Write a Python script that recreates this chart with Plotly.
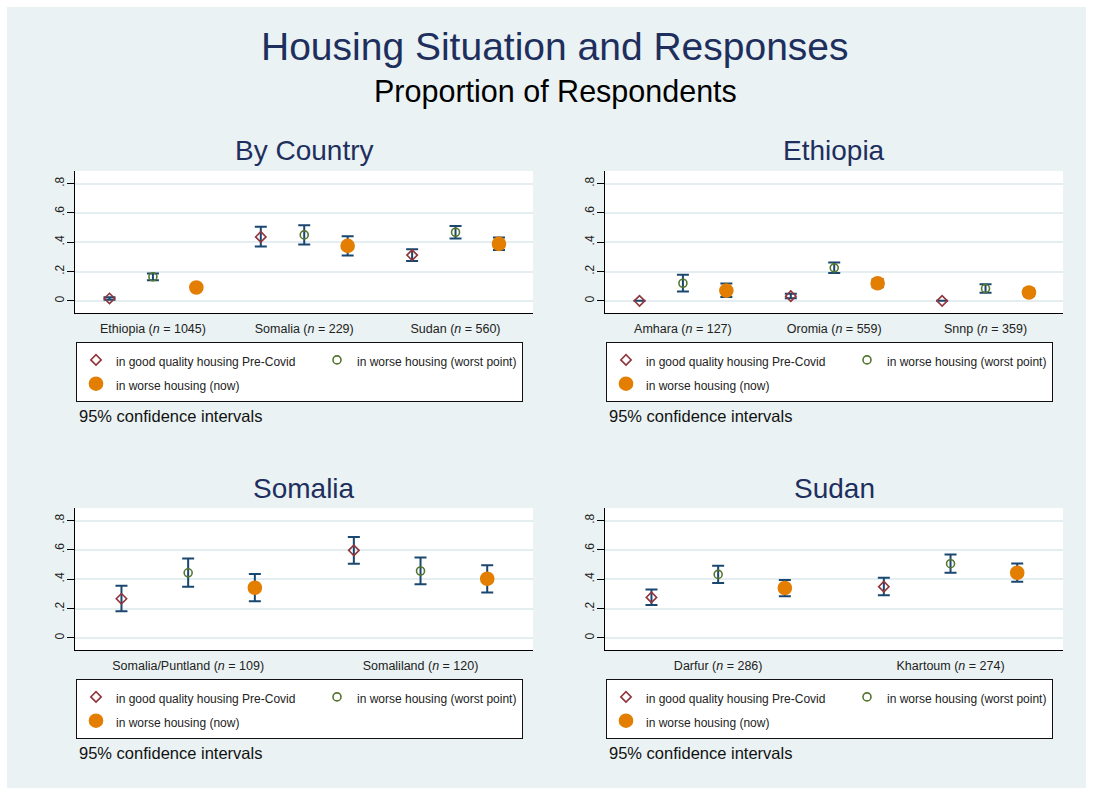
import numpy as np
import plotly.graph_objects as go

W, H = 1093, 795
FONT = "Liberation Sans, Arial, Helvetica, sans-serif"

# ---------------- data ----------------
series_labels = ["in good quality housing Pre-Covid",
                 "in worse housing (worst point)",
                 "in worse housing (now)"]

# By Country
country_labels = ["Ethiopia", "Somalia", "Sudan"]
country_n = [1045, 229, 560]
country_good_est = [0.016, 0.436, 0.312]
country_good_lo = [0.008, 0.370, 0.272]
country_good_hi = [0.025, 0.505, 0.352]
country_worst_est = [0.164, 0.450, 0.468]
country_worst_lo = [0.141, 0.384, 0.426]
country_worst_hi = [0.187, 0.516, 0.510]
country_now_est = [0.091, 0.375, 0.389]
country_now_lo = [0.074, 0.310, 0.347]
country_now_hi = [0.108, 0.440, 0.432]

# Ethiopia regions
eth_labels = ["Amhara", "Oromia", "Snnp"]
eth_n = [127, 559, 359]
eth_good_est = [0.0, 0.032, 0.0]
eth_good_lo = [0.0, 0.017, 0.0]
eth_good_hi = [0.0, 0.048, 0.0]
eth_worst_est = [0.120, 0.225, 0.084]
eth_worst_lo = [0.064, 0.190, 0.055]
eth_worst_hi = [0.178, 0.262, 0.113]
eth_now_est = [0.070, 0.120, 0.057]
eth_now_lo = [0.026, 0.093, 0.033]
eth_now_hi = [0.118, 0.148, 0.083]

# Somalia regions
som_labels = ["Somalia/Puntland", "Somaliland"]
som_n = [109, 120]
som_good_est = [0.267, 0.597]
som_good_lo = [0.182, 0.506]
som_good_hi = [0.356, 0.688]
som_worst_est = [0.444, 0.456]
som_worst_lo = [0.349, 0.365]
som_worst_hi = [0.542, 0.549]
som_now_est = [0.342, 0.403]
som_now_lo = [0.250, 0.310]
som_now_hi = [0.435, 0.495]

# Sudan regions
sud_labels = ["Darfur", "Khartoum"]
sud_n = [286, 274]
sud_good_est = [0.276, 0.349]
sud_good_lo = [0.224, 0.290]
sud_good_hi = [0.330, 0.410]
sud_worst_est = [0.433, 0.506]
sud_worst_lo = [0.374, 0.445]
sud_worst_hi = [0.492, 0.568]
sud_now_est = [0.340, 0.444]
sud_now_lo = [0.283, 0.383]
sud_now_hi = [0.394, 0.508]

ytick_vals = [0, 0.2, 0.4, 0.6, 0.8]
ytick_text = ["0", ".2", ".4", ".6", ".8"]

# ---------------- styles ----------------
symbols = ["diamond-open", "circle-open", "circle"]
colors = ["#90353B", "#55752F", "#E37E00"]
sizes = [8, 8, 13]
offsets = [-0.287, 0.0, 0.287]
ERR = "#1A476F"
TITLE_C = "#1E2F5E"
BG = "#EAF2F3"

def px(x):
    return x / W

def py(y):
    return 1 - y / H

panels = [
    dict(title="By Country", labels=country_labels, n=country_n,
         series=[(country_good_est, country_good_lo, country_good_hi),
                 (country_worst_est, country_worst_lo, country_worst_hi),
                 (country_now_est, country_now_lo, country_now_hi)],
         x0=75, x1=533, y0=171, y1=313),
    dict(title="Ethiopia", labels=eth_labels, n=eth_n,
         series=[(eth_good_est, eth_good_lo, eth_good_hi),
                 (eth_worst_est, eth_worst_lo, eth_worst_hi),
                 (eth_now_est, eth_now_lo, eth_now_hi)],
         x0=605, x1=1063, y0=171, y1=313),
    dict(title="Somalia", labels=som_labels, n=som_n,
         series=[(som_good_est, som_good_lo, som_good_hi),
                 (som_worst_est, som_worst_lo, som_worst_hi),
                 (som_now_est, som_now_lo, som_now_hi)],
         x0=75, x1=533, y0=508, y1=650),
    dict(title="Sudan", labels=sud_labels, n=sud_n,
         series=[(sud_good_est, sud_good_lo, sud_good_hi),
                 (sud_worst_est, sud_worst_lo, sud_worst_hi),
                 (sud_now_est, sud_now_lo, sud_now_hi)],
         x0=605, x1=1063, y0=508, y1=650),
]

fig = go.Figure()
layout = dict(
    width=W, height=H,
    margin=dict(l=0, r=0, t=0, b=0, pad=0),
    paper_bgcolor="white",
    plot_bgcolor="white",
    font=dict(family=FONT, color="#222"),
    showlegend=True,
)
shapes = [dict(type="rect", xref="paper", yref="paper",
               x0=px(7), x1=px(1086), y0=py(788), y1=py(7),
               fillcolor=BG, line=dict(width=0), layer="below")]
annotations = [
    dict(text="Housing Situation and Responses", x=px(554.5), y=py(47),
         font=dict(size=39, color=TITLE_C)),
    dict(text="Proportion of Respondents", x=px(555), y=py(92),
         font=dict(size=30.5, color="#000")),
]

for i, p in enumerate(panels):
    k = i + 1
    sfx = "" if k == 1 else str(k)
    N = len(p["labels"])
    cats = np.arange(1, N + 1)
    for s in range(3):
        est, lo, hi = (np.array(a, dtype=float) for a in p["series"][s])
        fig.add_trace(go.Scatter(
            x=cats + offsets[s], y=est,
            mode="markers",
            name=f'<span style="font-size:12px">{series_labels[s]}</span>',
            legend="legend" + sfx,
            legendgroup=f"g{k}{'b' if s == 1 else 'a'}",
            legendwidth=196 if s != 1 else None,
            marker=dict(symbol=symbols[s], color=colors[s], size=sizes[s],
                        line=dict(width=1.6, color=colors[s])),
            error_y=dict(type="data", symmetric=False,
                         array=hi - est, arrayminus=est - lo,
                         color=ERR, thickness=2, width=6),
            xaxis="x" + sfx, yaxis="y" + sfx,
            hoverinfo="skip",
        ))
    xr = [0.485, 3.512] if N == 3 else [0.513, 2.484]
    layout["xaxis" + sfx] = dict(
        domain=[px(p["x0"]), px(p["x1"])], range=xr, anchor="y" + sfx,
        tickvals=list(cats),
        ticktext=[f"{l} (<i>n</i> = {n})" for l, n in zip(p["labels"], p["n"])],
        showline=True, linecolor="#000", linewidth=1, mirror=False,
        showgrid=False, zeroline=False, ticks="",
        tickfont=dict(size=12.5, color="#222"), ticklabelstandoff=4,
        fixedrange=True,
    )
    layout["yaxis" + sfx] = dict(
        domain=[py(p["y1"]), py(p["y0"])], range=[-0.083, 0.886],
        anchor="x" + sfx,
        tickvals=ytick_vals, ticktext=ytick_text, tickangle=-90,
        showline=True, linecolor="#000", linewidth=1,
        ticks="outside", ticklen=7, tickcolor="#000", tickwidth=1,
        showgrid=True, gridcolor="#E4EDF0", gridwidth=1.5, zeroline=False,
        tickfont=dict(size=12, color="#222"), ticklabelstandoff=-2,
        fixedrange=True,
    )
    # white plot area over the background panel
    shapes.append(dict(type="rect", xref="paper", yref="paper",
                       x0=px(p["x0"]), x1=px(p["x1"]),
                       y0=py(p["y1"]), y1=py(p["y0"]),
                       fillcolor="white", line=dict(width=0), layer="below"))
    cx = (p["x0"] + p["x1"]) / 2
    annotations.append(dict(text=p["title"], x=px(cx), y=py(p["y0"] - 20),
                            font=dict(size=28, color=TITLE_C)))
    annotations.append(dict(text="95% confidence intervals",
                            x=px(p["x0"] + 2), y=py(p["y0"] + 245),
                            xanchor="left", font=dict(size=16.5, color="#111")))
    layout["legend" + sfx] = dict(
        x=px(p["x0"] + 1), y=py(p["y0"] + 171), xanchor="left", yanchor="top",
        orientation="h", traceorder="grouped",
        bgcolor="white", bordercolor="#111", borderwidth=1,
        font=dict(size=16, family=FONT, color="#222"),
        itemsizing="trace", itemclick=False, itemdoubleclick=False,
    )

for a in annotations:
    a.setdefault("xref", "paper")
    a.setdefault("yref", "paper")
    a.setdefault("showarrow", False)
    a.setdefault("xanchor", "center")
    a.setdefault("yanchor", "middle")

layout["shapes"] = shapes
layout["annotations"] = annotations
fig.update_layout(**layout)

fig.write_html("out.html", config={"displayModeBar": False},
               post_script="document.body.style.margin='0';")
